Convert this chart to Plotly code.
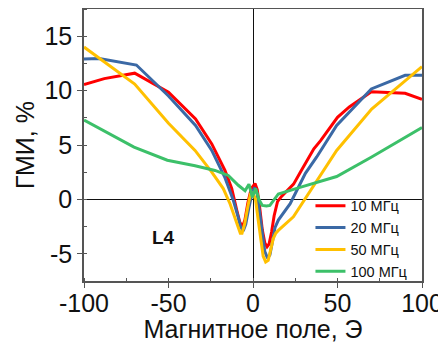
import plotly.graph_objects as go

# ---- data ----
x_10 = [-100, -88, -70, -50, -34, -24.4, -16.6, -12.6, -9.6, -7.8, -6.2, -4.8, -3, -1, 1.2, 2.5, 4, 5.5, 7, 8.3, 9.5, 11, 12.5, 14.5, 17, 24, 28, 36, 40, 50, 57, 70, 90, 100]
y_10 = [10.55, 11.1, 11.6, 9.85, 7.4, 5.1, 2.66, 1.0, -1.0, -2.1, -2.5, -1.9, -0.3, 1.0, 1.45, 0.9, -0.8, -2.8, -4.0, -4.35, -4.1, -3.0, -1.5, -0.2, 0.3, 1.4, 2.5, 4.65, 5.4, 7.55, 8.5, 9.9, 9.75, 9.2]

x_20 = [-100, -91, -69, -50, -34, -24.4, -16.6, -11.6, -9, -7.4, -5.8, -4.3, -2.5, -0.5, 1, 2.5, 4, 5.5, 7, 8.6, 10, 11.5, 13, 15, 22, 31, 37.7, 49.5, 70, 90, 100]
y_20 = [12.9, 12.95, 12.35, 9.5, 6.8, 4.5, 2.0, -0.1, -1.5, -2.5, -2.9, -2.3, -0.8, 0.6, 1.1, 0.5, -1.3, -3.3, -4.8, -5.4, -5.1, -3.9, -2.6, -1.9, -0.4, 2.4, 3.9, 6.8, 10.15, 11.4, 11.4]

x_50 = [-100, -70, -50, -34.3, -24.4, -17.6, -13.6, -11, -9, -7.5, -6.5, -5, -3, -1.5, 0, 1.5, 3, 4.5, 6, 7.5, 9, 10.5, 12, 13.5, 15, 23.9, 32.7, 45.6, 49.5, 70.2, 100]
y_50 = [14.0, 10.6, 7.0, 4.5, 2.5, 1.0, -0.4, -1.6, -2.6, -3.1, -3.1, -2.3, -0.6, 0.5, 0.6, 0.0, -1.8, -3.8, -5.2, -5.75, -5.6, -4.6, -3.6, -3.1, -2.85, -1.6, 0.5, 3.6, 4.5, 8.3, 12.2]

x_100 = [-100, -70.4, -50.7, -34.3, -22.5, -14.6, -8.7, -4.7, -2.4, -0.4, 1.6, 3.5, 5.5, 8, 10, 12.5, 15, 27.8, 49.5, 70.2, 100]
y_100 = [7.3, 4.8, 3.6, 3.1, 2.66, 2.2, 1.3, 0.8, 1.4, 0.2, 1.0, 0.0, -0.55, -0.6, -0.55, 0.0, 0.5, 1.1, 2.1, 3.9, 6.6]

series_names = ["10 МГц", "20 МГц", "50 МГц", "100 МГц"]
series_colors = ["#FF0000", "#3B69A5", "#FFC000", "#3CC069"]

x_ticks = [-100, -50, 0, 50, 100]
x_ticklabels = ["-100", "-50", "0", "50", "100"]
y_ticks = [-5, 0, 5, 10, 15]
y_ticklabels = ["-5", "0", "5", "10", "15"]

FONT = "Liberation Sans, Arial, sans-serif"

fig = go.Figure()
for xs, ys, name, col in zip([x_10, x_20, x_50, x_100], [y_10, y_20, y_50, y_100], series_names, series_colors):
    fig.add_trace(go.Scatter(x=xs, y=ys, mode="lines", name=name,
                             line=dict(color=col, width=3)))

fig.add_annotation(x=-53, y=-3.5, text="<b>L4</b>", showarrow=False,
                   font=dict(family=FONT, size=19, color="#111"))

axis_common = dict(showline=True, mirror=True, linecolor="#555", linewidth=1.5,
                   ticks="outside", ticklen=5, tickcolor="#555", tickwidth=1.2,
                   showgrid=False, zeroline=True, zerolinecolor="#111", zerolinewidth=1,
                   automargin=False,
                   tickfont=dict(family=FONT, size=25, color="#111"))

fig.update_xaxes(range=[-100, 100], tickvals=x_ticks, ticktext=x_ticklabels,
                 ticklabelstandoff=-6,
                 minor=dict(ticks="inside", ticklen=3, dtick=25, tick0=0, tickcolor="#555"),
                 title=dict(text="Магнитное поле, Э", standoff=0,
                            font=dict(family=FONT, size=25, color="#111")),
                 **axis_common)
fig.update_yaxes(range=[-7.5, 17.5], tickvals=y_ticks, ticktext=y_ticklabels,
                 minor=dict(ticks="inside", ticklen=3, dtick=2.5, tick0=0, tickcolor="#555"),
                 title=dict(text="ГМИ, %", standoff=3,
                            font=dict(family=FONT, size=25, color="#111")),
                 **axis_common)

fig.update_layout(width=438, height=335,
                  margin=dict(l=76, r=24, t=1, b=62),
                  plot_bgcolor="white", paper_bgcolor="white",
                  font=dict(family=FONT),
                  legend=dict(x=0.67, y=-0.025, xanchor="left", yanchor="bottom",
                              bgcolor="rgba(0,0,0,0)", tracegroupgap=0,
                              font=dict(family=FONT, size=14.5, color="#111"),
                              itemwidth=30))

fig.write_html("out.html")
